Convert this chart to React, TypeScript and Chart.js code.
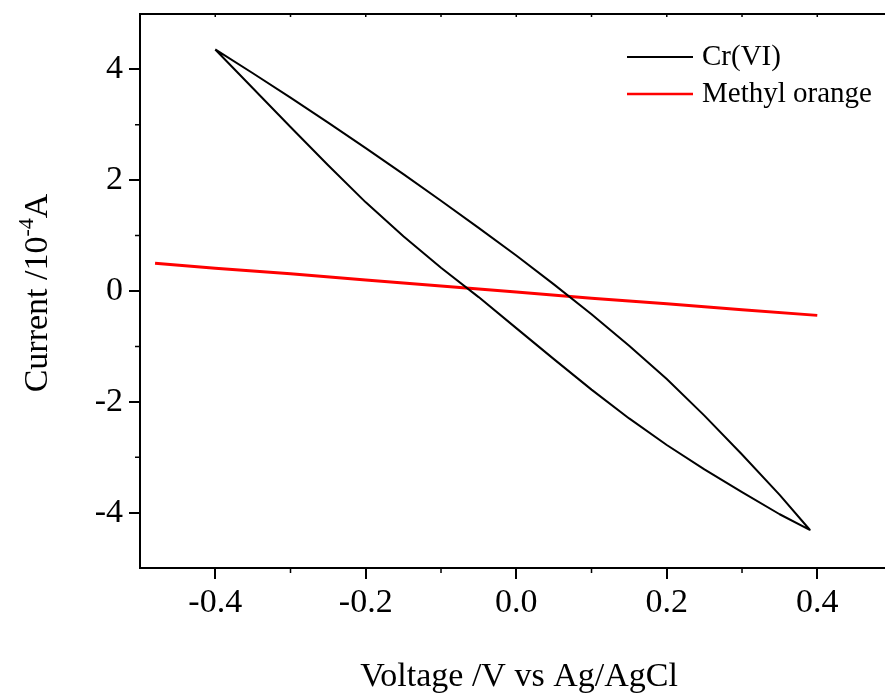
import React, { useEffect, useRef } from "react";
import { Chart, registerables } from "chart.js";

Chart.register(...registerables);

const crVoltage = [
  -0.4, -0.35, -0.3, -0.25, -0.2, -0.15, -0.1, -0.05, 0, 0.05, 0.1, 0.15, 0.2, 0.25, 0.3, 0.35, 0.39,
  0.35, 0.3, 0.25, 0.2, 0.15, 0.1, 0.05, 0, -0.05, -0.1, -0.15, -0.2, -0.25, -0.3, -0.35, -0.4,
];
const crCurrent = [
  4.36, 3.93, 3.49, 3.04, 2.58, 2.11, 1.63, 1.14, 0.64, 0.12, -0.42, -0.99, -1.59, -2.25, -2.95, -3.68, -4.31,
  -4.03, -3.63, -3.22, -2.78, -2.3, -1.78, -1.23, -0.67, -0.11, 0.42, 0.99, 1.6, 2.27, 2.96, 3.66, 4.36,
];

const moVoltage = [-0.48, -0.4, -0.3, -0.2, -0.1, 0, 0.1, 0.2, 0.3, 0.4];
const moCurrent = [0.5, 0.41, 0.31, 0.2, 0.09, -0.02, -0.13, -0.23, -0.34, -0.44];

const xTicks = [-0.4, -0.2, 0, 0.2, 0.4];
const yTicks = [-4, -2, 0, 2, 4];
const xMinorTicks = [-0.3, -0.1, 0.1, 0.3];
const yMinorTicks = [-3, -1, 1, 3];

const seriesLabels = ["Cr(VI)", "Methyl orange"];
const xTitle = "Voltage /V vs Ag/AgCl";
const yTitleParts = ["Current /10", "-4", "A"];

const FONT = "'Liberation Serif', 'Times New Roman', serif";

const decorPlugin = {
  id: "decor",
  afterDraw(chart: any) {
    const ctx = chart.ctx;
    const { left, right, top, bottom } = chart.chartArea;
    const xs = chart.scales.x;
    const ys = chart.scales.y;
    ctx.save();
    // top border
    ctx.strokeStyle = "#000";
    ctx.lineWidth = 2;
    ctx.beginPath();
    ctx.moveTo(left - 1, top);
    ctx.lineTo(right, top);
    ctx.stroke();
    // minor ticks
    ctx.lineWidth = 1.5;
    ctx.beginPath();
    for (const v of xMinorTicks) {
      const px = xs.getPixelForValue(v);
      ctx.moveTo(px, bottom);
      ctx.lineTo(px, bottom + 5);
    }
    for (const v of [...xTicks, ...xMinorTicks]) {
      const px = xs.getPixelForValue(v);
      ctx.moveTo(px, top);
      ctx.lineTo(px, top + 3);
    }
    for (const v of yMinorTicks) {
      const py = ys.getPixelForValue(v);
      ctx.moveTo(left, py);
      ctx.lineTo(left - 5, py);
    }
    ctx.stroke();

    // x title
    ctx.fillStyle = "#000";
    ctx.font = `34px ${FONT}`;
    ctx.textAlign = "center";
    ctx.textBaseline = "alphabetic";
    ctx.fillText(xTitle, 519, 686);

    // y title rotated with superscript
    ctx.save();
    ctx.translate(47, 0);
    ctx.rotate(-Math.PI / 2);
    const big = `34px ${FONT}`;
    const small = `22px ${FONT}`;
    ctx.font = big;
    const w1 = ctx.measureText(yTitleParts[0]).width;
    const w3 = ctx.measureText(yTitleParts[2]).width;
    ctx.font = small;
    const w2 = ctx.measureText(yTitleParts[1]).width;
    const total = w1 + w2 + w3;
    const cy = 293;
    let pos = -cy - total / 2;
    ctx.textAlign = "left";
    ctx.font = big;
    ctx.fillText(yTitleParts[0], pos, 0);
    pos += w1;
    ctx.font = small;
    ctx.fillText(yTitleParts[1], pos, -14);
    pos += w2;
    ctx.font = big;
    ctx.fillText(yTitleParts[2], pos, 0);
    ctx.restore();

    // legend
    chart.data.datasets.forEach((ds: any, i: number) => {
      const ly = 57 + i * 37;
      ctx.strokeStyle = ds.borderColor;
      ctx.lineWidth = i === 0 ? 2 : 2.5;
      ctx.beginPath();
      ctx.moveTo(627, ly);
      ctx.lineTo(693, ly);
      ctx.stroke();
      ctx.fillStyle = "#000";
      ctx.font = `29px ${FONT}`;
      ctx.textAlign = "left";
      ctx.textBaseline = "alphabetic";
      ctx.fillText(ds.label, 702, ly + 8);
    });
    ctx.restore();
  },
};

export default function App() {
  const ref = useRef<HTMLCanvasElement | null>(null);
  useEffect(() => {
    if (!ref.current) return;
    const chart = new Chart(ref.current, {
      type: "scatter",
      data: {
        datasets: [
          {
            label: seriesLabels[0],
            data: crVoltage.map((x, i) => ({ x, y: crCurrent[i] })),
            showLine: true,
            borderColor: "#000000",
            borderWidth: 2,
            borderJoinStyle: "round",
            pointRadius: 0,
            tension: 0,
            fill: false,
          },
          {
            label: seriesLabels[1],
            data: moVoltage.map((x, i) => ({ x, y: moCurrent[i] })),
            showLine: true,
            borderColor: "#ff0000",
            borderWidth: 3,
            pointRadius: 0,
            tension: 0,
            fill: false,
          },
        ],
      },
      options: {
        animation: false,
        responsive: false,
        layout: { padding: { top: 14, right: 0, left: 0, bottom: 0 } },
        plugins: { legend: { display: false }, tooltip: { enabled: false } },
        scales: {
          x: {
            type: "linear",
            min: -0.5,
            max: 0.49,
            afterBuildTicks: (s: any) => {
              s.ticks = xTicks.map((v) => ({ value: v }));
            },
            afterFit: (s: any) => {
              s.height = 131;
              s.paddingLeft = 0;
              s.paddingRight = 0;
            },
            ticks: {
              color: "#000",
              font: { family: FONT, size: 34 },
              padding: 4,
              maxRotation: 0,
              callback: (v: any) => Number(v).toFixed(1),
            },
            grid: { drawOnChartArea: false, drawTicks: true, tickLength: 11, color: "#000", lineWidth: 2 },
            border: { display: true, color: "#000", width: 2 },
          },
          y: {
            type: "linear",
            min: -5,
            max: 5,
            afterBuildTicks: (s: any) => {
              s.ticks = yTicks.map((v) => ({ value: v }));
            },
            afterFit: (s: any) => {
              s.width = 140;
              s.paddingTop = 0;
              s.paddingBottom = 0;
            },
            ticks: {
              color: "#000",
              font: { family: FONT, size: 34 },
              padding: 6,
              callback: (v: any) => String(v),
            },
            grid: { drawOnChartArea: false, drawTicks: true, tickLength: 11, color: "#000", lineWidth: 2 },
            border: { display: true, color: "#000", width: 2 },
          },
        },
      },
      plugins: [decorPlugin],
    });
    return () => chart.destroy();
  }, []);
  return (
    <div style={{ position: "fixed", left: 0, top: 0, width: 885, height: 699, background: "#fff" }}>
      <canvas ref={ref} width={885} height={699} style={{ display: "block" }} />
    </div>
  );
}
